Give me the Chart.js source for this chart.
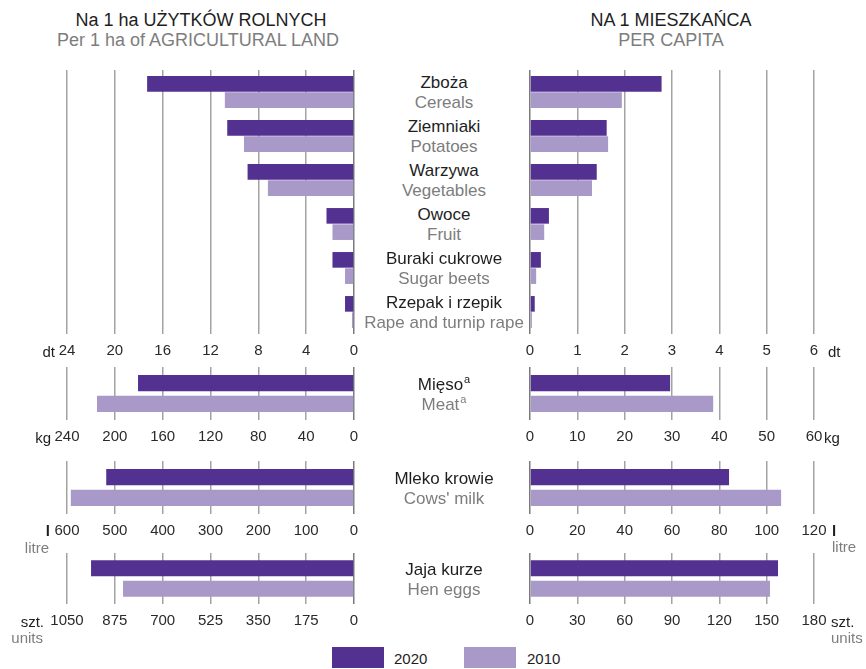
<!DOCTYPE html>
<html>
<head>
<meta charset="utf-8">
<script src="https://cdn.jsdelivr.net/npm/chart.js@4"></script>
<style>
  html, body { margin: 0; padding: 0; background: #fff; }
  body { width: 866px; height: 669px; position: relative; overflow: hidden;
         font-family: "Liberation Sans", Arial, sans-serif; }
  .box { position: absolute; }
  .box canvas { display: block; }
  .t { position: absolute; white-space: nowrap; line-height: 1; transform: translateY(-50%); }
  .c { transform: translate(-50%, -50%); }
  .r { transform: translate(-100%, -50%); }
  .dark { color: #1e1e1e; }
  .gray { color: #7d7d7d; }
  .sup { font-size: 11px; position: relative; top: -7px; margin-left: 1px; }
  .swatch { position: absolute; width: 52px; height: 21px; }
</style>
</head>
<body>
<div class="t c dark" style="left:201px;top:20px;font-size:18px;">Na 1 ha UŻYTKÓW ROLNYCH</div>
<div class="t c gray" style="left:198px;top:40px;font-size:18px;">Per 1 ha of AGRICULTURAL LAND</div>
<div class="t c dark" style="left:671px;top:20px;font-size:18px;">NA 1 MIESZKAŃCA</div>
<div class="t c gray" style="left:671px;top:40px;font-size:18px;">PER CAPITA</div>

<div class="box" id="b-crops-ha"><canvas id="crops-ha"></canvas></div>
<div class="box" id="b-crops-cap"><canvas id="crops-cap"></canvas></div>
<div class="box" id="b-meat-ha"><canvas id="meat-ha"></canvas></div>
<div class="box" id="b-meat-cap"><canvas id="meat-cap"></canvas></div>
<div class="box" id="b-milk-ha"><canvas id="milk-ha"></canvas></div>
<div class="box" id="b-milk-cap"><canvas id="milk-cap"></canvas></div>
<div class="box" id="b-eggs-ha"><canvas id="eggs-ha"></canvas></div>
<div class="box" id="b-eggs-cap"><canvas id="eggs-cap"></canvas></div>

<div id="labels"></div>

<!-- units -->
<div class="t r dark" style="left:55px;top:351px;font-size:15px;">dt</div>
<div class="t dark" style="left:828px;top:351px;font-size:15px;">dt</div>
<div class="t r dark" style="left:51px;top:437px;font-size:15px;">kg</div>
<div class="t dark" style="left:824px;top:437px;font-size:15px;">kg</div>
<div class="t r dark" style="left:50px;top:530px;font-size:15px;font-weight:bold;">l</div>
<div class="t r gray" style="left:49px;top:547px;font-size:15px;">litre</div>
<div class="t dark" style="left:832px;top:530px;font-size:15px;font-weight:bold;">l</div>
<div class="t gray" style="left:832px;top:546px;font-size:15px;">litre</div>
<div class="t r dark" style="left:44px;top:621px;font-size:15px;">szt.</div>
<div class="t r gray" style="left:43px;top:637px;font-size:15px;">units</div>
<div class="t dark" style="left:831px;top:621px;font-size:15px;">szt.</div>
<div class="t gray" style="left:831px;top:637px;font-size:15px;">units</div>

<!-- legend -->
<div class="swatch" style="left:332px;top:647px;background:#523191;"></div>
<div class="t dark" style="left:394px;top:658px;font-size:15px;">2020</div>
<div class="swatch" style="left:464px;top:647px;background:#a899c8;"></div>
<div class="t dark" style="left:527px;top:658px;font-size:15px;">2010</div>

<script>
const COLOR_2020 = "#523191";
const COLOR_2010 = "#a899c8";

// crops, dt
const cropNamesPl = ["Zboża", "Ziemniaki", "Warzywa", "Owoce", "Buraki cukrowe", "Rzepak i rzepik"];
const cropNamesEn = ["Cereals", "Potatoes", "Vegetables", "Fruit", "Sugar beets", "Rape and turnip rape"];
const cropsPerHa2020 = [17.3, 10.6, 8.9, 2.3, 1.8, 0.75];
const cropsPerHa2010 = [10.8, 9.2, 7.2, 1.8, 0.75, 0.17];
const cropsPerCapita2020 = [2.78, 1.62, 1.41, 0.40, 0.23, 0.10];
const cropsPerCapita2010 = [1.94, 1.65, 1.31, 0.30, 0.13, 0.04];

// meat (kg)
const meatPerHa2020 = [180.6];
const meatPerHa2010 = [214.9];
const meatPerCapita2020 = [29.6];
const meatPerCapita2010 = [38.7];

// cows' milk (l)
const milkPerHa2020 = [518];
const milkPerHa2010 = [592];
const milkPerCapita2020 = [84.1];
const milkPerCapita2010 = [106.1];

// hen eggs (units)
const eggsPerHa2020 = [962];
const eggsPerHa2010 = [845];
const eggsPerCapita2020 = [157.2];
const eggsPerCapita2010 = [152.1];

// axis ranges: [max, step]
const cropsHaAxis = [24, 4];
const cropsCapAxis = [6, 1];
const meatHaAxis = [240, 40];
const meatCapAxis = [60, 10];
const milkHaAxis = [600, 100];
const milkCapAxis = [120, 20];
const eggsHaAxis = [1050, 175];
const eggsCapAxis = [180, 30];

const PAD = 30;      // side padding so edge tick labels never shrink the plot
const AXIS_H = 28;   // fixed height reserved for tick labels

function makeChart(id, opts) {
  const box = document.getElementById("b-" + id);
  const areaW = opts.right - opts.left;
  const areaH = opts.bottom - opts.top;
  box.style.left = (opts.left - PAD) + "px";
  box.style.top = opts.top + "px";
  box.style.width = (areaW + 2 * PAD) + "px";
  box.style.height = (areaH + AXIS_H) + "px";

  return new Chart(document.getElementById(id), {
    type: "bar",
    data: {
      labels: opts.labels,
      datasets: [
        { label: "2020", data: opts.d2020, backgroundColor: COLOR_2020, borderWidth: 0 },
        { label: "2010", data: opts.d2010, backgroundColor: COLOR_2010, borderWidth: 0 },
      ],
    },
    options: {
      indexAxis: "y",
      responsive: true,
      maintainAspectRatio: false,
      animation: false,
      events: [],
      layout: { padding: { left: PAD, right: PAD, top: 0, bottom: 0 } },
      datasets: {
        bar: { categoryPercentage: opts.catPct, barPercentage: opts.barPct },
      },
      plugins: { legend: { display: false }, tooltip: { enabled: false } },
      scales: {
        y: { display: false },
        x: {
          reverse: opts.reverse,
          min: 0,
          max: opts.axis[0],
          border: { display: false },
          grid: {
            drawTicks: false,
            lineWidth: 1.5,
            color: (c) => (c.tick && c.tick.value === 0 ? "#7b7b7b" : "#a3a3a3"),
          },
          ticks: {
            stepSize: opts.axis[1],
            padding: 8,
            color: "#2a2a2a",
            maxRotation: 0,
            autoSkip: false,
            callback: (v) => String(v),
            font: { family: "'Liberation Sans', Arial, sans-serif", size: 15 },
          },
          afterFit: (s) => { s.height = AXIS_H; },
        },
      },
    },
  });
}

const L = { left: 67, right: 354 };
const R = { left: 530, right: 814 };

const panels = [
  { top: 70, bottom: 334, names: [cropNamesPl, cropNamesEn], catPct: 0.74, barPct: 0.96,
    ha: ["crops-ha", cropsPerHa2020, cropsPerHa2010, cropsHaAxis],
    cap: ["crops-cap", cropsPerCapita2020, cropsPerCapita2010, cropsCapAxis] },
  { top: 367, bottom: 420, names: [["Mięso"], ["Meat"]], sup: "a", catPct: 0.78, barPct: 0.78,
    ha: ["meat-ha", meatPerHa2020, meatPerHa2010, meatHaAxis],
    cap: ["meat-cap", meatPerCapita2020, meatPerCapita2010, meatCapAxis] },
  { top: 461, bottom: 514, names: [["Mleko krowie"], ["Cows' milk"]], catPct: 0.78, barPct: 0.78,
    ha: ["milk-ha", milkPerHa2020, milkPerHa2010, milkHaAxis],
    cap: ["milk-cap", milkPerCapita2020, milkPerCapita2010, milkCapAxis] },
  { top: 553, bottom: 604, names: [["Jaja kurze"], ["Hen eggs"]], catPct: 0.8, barPct: 0.78,
    ha: ["eggs-ha", eggsPerHa2020, eggsPerHa2010, eggsHaAxis],
    cap: ["eggs-cap", eggsPerCapita2020, eggsPerCapita2010, eggsCapAxis] },
];

const labelsEl = document.getElementById("labels");

for (const p of panels) {
  const labels = p.names[0];
  const left = makeChart(p.ha[0], {
    ...L, top: p.top, bottom: p.bottom, labels, reverse: true,
    d2020: p.ha[1], d2010: p.ha[2], axis: p.ha[3], catPct: p.catPct, barPct: p.barPct,
  });
  makeChart(p.cap[0], {
    ...R, top: p.top, bottom: p.bottom, labels, reverse: false,
    d2020: p.cap[1], d2010: p.cap[2], axis: p.cap[3], catPct: p.catPct, barPct: p.barPct,
  });

  // centre the two-language labels on each category row
  const yScale = left.scales.y;
  const sup = p.sup ? `<span class="sup">${p.sup}</span>` : "";
  p.names[0].forEach((pl, i) => {
    const y = p.top + yScale.getPixelForValue(i);
    labelsEl.insertAdjacentHTML("beforeend",
      `<div class="t c dark" style="left:444px;top:${y - 10}px;font-size:17px;">${pl}${sup}</div>` +
      `<div class="t c gray" style="left:444px;top:${y + 10}px;font-size:17px;">${p.names[1][i]}${sup}</div>`);
  });
}
</script>
</body>
</html>
